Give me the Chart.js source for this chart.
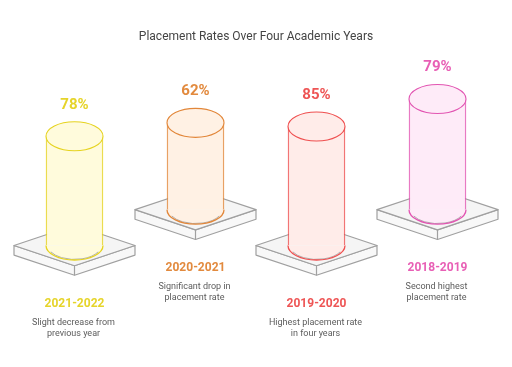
<!DOCTYPE html>
<html>
<head>
<meta charset="utf-8">
<title>Placement Rates</title>
<script src="https://cdn.jsdelivr.net/npm/chart.js@4"></script>
<style>
    html, body { margin: 0; padding: 0; background: #fff; }
</style>
</head>
<body>
<canvas id="placementChart" width="512" height="367"></canvas>
<script>
const years = ['2021-2022', '2020-2021', '2019-2020', '2018-2019'];
const rates = [78, 62, 85, 79];
// back row cylinders stand higher up, expressed in % units of the same axis
const baseLift = [0, 25.6, 0, 25.6];
const notes = [
    ['Slight decrease from', 'previous year'],
    ['Significant drop in', 'placement rate'],
    ['Highest placement rate', 'in four years'],
    ['Second highest', 'placement rate']
];
const strokeColors = ['#e6d31f', '#e2873a', '#ef4f4f', '#e255b2'];
const labelColors = ['#e6d42a', '#e28a3e', '#ee5555', '#e85fb5'];
const fillColors = ['#fffbdc', '#fff1e4', '#ffece9', '#feebf8'];

const capRatio = 14.5 / 28.5;

const cylinderPlugin = {
    id: 'cylinder',
    beforeDatasetsDraw(chart) {
        const ctx = chart.ctx;
        chart.getDatasetMeta(0).data.forEach(function(bar) {
            const halfW = 60.5, halfH = 20.2, depth = 9.6;
            const cx = bar.x, cy = bar.base;
            ctx.save();
            ctx.strokeStyle = '#a0a0a0';
            ctx.lineWidth = 1.2;
            ctx.lineJoin = 'round';
            // sides
            ctx.fillStyle = '#f8f8f8';
            ctx.beginPath();
            ctx.moveTo(cx - halfW, cy);
            ctx.lineTo(cx - halfW, cy + depth);
            ctx.lineTo(cx, cy + halfH + depth);
            ctx.lineTo(cx + halfW, cy + depth);
            ctx.lineTo(cx + halfW, cy);
            ctx.lineTo(cx, cy + halfH);
            ctx.closePath();
            ctx.fill();
            ctx.stroke();
            // top face
            ctx.fillStyle = '#f5f5f5';
            ctx.beginPath();
            ctx.moveTo(cx - halfW, cy);
            ctx.lineTo(cx, cy - halfH);
            ctx.lineTo(cx + halfW, cy);
            ctx.lineTo(cx, cy + halfH);
            ctx.closePath();
            ctx.fill();
            ctx.stroke();
            // front edge
            ctx.beginPath();
            ctx.moveTo(cx, cy + halfH);
            ctx.lineTo(cx, cy + halfH + depth);
            ctx.stroke();
            ctx.restore();
        });
    },
    afterDatasetsDraw(chart) {
        const ctx = chart.ctx;
        chart.getDatasetMeta(0).data.forEach(function(bar, i) {
            const rx = bar.width / 2;
            const ry = rx * capRatio;
            ctx.save();
            // bottom of the cylinder
            ctx.fillStyle = fillColors[i];
            ctx.beginPath();
            ctx.ellipse(bar.x, bar.base, rx, ry, 0, 0, Math.PI);
            ctx.fill();
            ctx.lineWidth = 1;
            ctx.strokeStyle = '#b0b0b0';
            ctx.beginPath();
            ctx.ellipse(bar.x, bar.base - 0.6, rx - 1.5, ry, 0, 0.5, Math.PI - 0.5);
            ctx.stroke();
            ctx.lineWidth = 1.3;
            ctx.strokeStyle = strokeColors[i];
            ctx.beginPath();
            ctx.ellipse(bar.x, bar.base, rx, ry, 0, 0, Math.PI);
            ctx.stroke();
            // top cap
            ctx.lineWidth = 1.1;
            ctx.fillStyle = fillColors[i];
            ctx.beginPath();
            ctx.ellipse(bar.x, bar.y, rx, ry, 0, 0, Math.PI * 2);
            ctx.fill();
            ctx.stroke();

            ctx.textAlign = 'center';
            ctx.textBaseline = 'middle';
            ctx.fillStyle = labelColors[i];
            ctx.font = 'bold 15px Roboto';
            ctx.fillText(rates[i] + '%', bar.x, bar.y - 31.5);
            ctx.font = 'bold 12px Roboto';
            ctx.fillText(years[i], bar.x, bar.base + 58.5);
            ctx.fillStyle = '#5c5c5c';
            ctx.font = '9px Roboto';
            notes[i].forEach(function(line, n) {
                ctx.fillText(line, bar.x - 1, bar.base + 77.5 + n * 10.8);
            });
            ctx.restore();
        });
    }
};

new Chart(document.getElementById('placementChart').getContext('2d'), {
    type: 'bar',
    data: {
        labels: years,
        datasets: [{
            label: 'Placement rate',
            data: rates.map(function(rate, i) {
                return [baseLift[i], baseLift[i] + rate];
            }),
            backgroundColor: fillColors,
            borderColor: strokeColors.map(function(c) { return c + 'c8'; }),
            borderWidth: { left: 1.4, right: 1.4, top: 0, bottom: 0 },
            borderSkipped: false,
            barThickness: 57
        }]
    },
    plugins: [cylinderPlugin],
    options: {
        responsive: false,
        animation: false,
        layout: {
            padding: { left: 14, right: 14, top: 0, bottom: 121.5 }
        },
        plugins: {
            legend: { display: false },
            tooltip: { enabled: false },
            title: {
                display: true,
                text: 'Placement Rates Over Four Academic Years',
                color: '#444444',
                font: { family: 'Roboto', size: 12, weight: 'normal' },
                padding: { top: 29.5, bottom: 19.6 }
            }
        },
        scales: {
            x: { display: false, grid: { display: false } },
            y: { display: false, min: 0, max: 130, grid: { display: false } }
        }
    }
});
</script>
</body>
</html>
